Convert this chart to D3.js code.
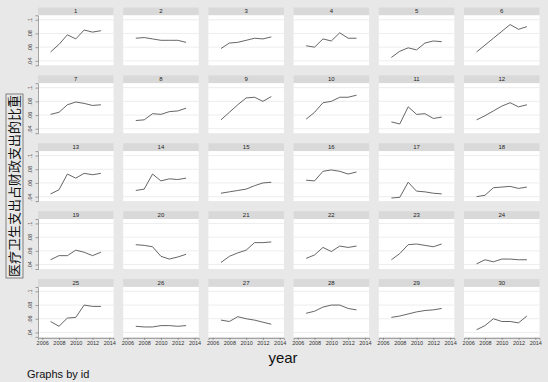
<!DOCTYPE html>
<html>
<head>
<meta charset="utf-8">
<script src="https://cdn.jsdelivr.net/npm/d3@7"></script>
<style>
  body { margin: 0; background: #e8e8e8; }
  svg { display: block; font-family: "Liberation Sans", Arial, sans-serif; }
</style>
</head>
<body>
<div class="chart"></div>
<script>
// data
var years = [2007, 2008, 2009, 2010, 2011, 2012, 2013];
var xTicks = [2006, 2008, 2010, 2012, 2014];
var yTicks = [0.04, 0.06, 0.08, 0.1];
var ids = d3.range(1, 31);
var shares = [
  [0.053, 0.064, 0.078, 0.072, 0.085, 0.082, 0.084],
  [0.073, 0.074, 0.072, 0.070, 0.070, 0.070, 0.067],
  [0.058, 0.066, 0.067, 0.070, 0.073, 0.072, 0.075],
  [0.062, 0.060, 0.072, 0.069, 0.081, 0.073, 0.073],
  [0.045, 0.054, 0.059, 0.056, 0.066, 0.069, 0.068],
  [0.053, 0.063, 0.073, 0.083, 0.093, 0.086, 0.090],
  [0.061, 0.064, 0.075, 0.079, 0.077, 0.074, 0.075],
  [0.052, 0.053, 0.062, 0.061, 0.065, 0.066, 0.070],
  [0.053, 0.064, 0.075, 0.085, 0.086, 0.080, 0.087],
  [0.054, 0.064, 0.078, 0.080, 0.086, 0.086, 0.089],
  [0.050, 0.047, 0.072, 0.061, 0.062, 0.055, 0.057],
  [0.053, 0.059, 0.066, 0.073, 0.078, 0.072, 0.075],
  [0.044, 0.050, 0.073, 0.067, 0.074, 0.072, 0.074],
  [0.049, 0.051, 0.073, 0.063, 0.066, 0.065, 0.067],
  [0.045, 0.047, 0.049, 0.051, 0.056, 0.060, 0.061],
  [0.064, 0.063, 0.077, 0.079, 0.077, 0.073, 0.076],
  [0.038, 0.039, 0.061, 0.048, 0.047, 0.045, 0.044],
  [0.040, 0.042, 0.053, 0.054, 0.055, 0.052, 0.054],
  [0.047, 0.053, 0.053, 0.061, 0.058, 0.053, 0.058],
  [0.069, 0.068, 0.066, 0.052, 0.048, 0.051, 0.055],
  [0.043, 0.052, 0.057, 0.061, 0.072, 0.072, 0.073],
  [0.049, 0.054, 0.065, 0.059, 0.067, 0.065, 0.067],
  [0.047, 0.056, 0.069, 0.070, 0.068, 0.066, 0.070],
  [0.041, 0.047, 0.044, 0.048, 0.048, 0.047, 0.047],
  [0.056, 0.049, 0.061, 0.062, 0.080, 0.078, 0.078],
  [0.049, 0.048, 0.048, 0.050, 0.050, 0.049, 0.050],
  [0.058, 0.056, 0.063, 0.060, 0.058, 0.055, 0.052],
  [0.068, 0.071, 0.077, 0.080, 0.080, 0.075, 0.073],
  [0.062, 0.064, 0.067, 0.070, 0.072, 0.073, 0.075],
  [0.044, 0.050, 0.060, 0.056, 0.056, 0.054, 0.064]
];

// dimensions
var width = 548, height = 382;
var cols = 6, rows = 5;
var gridLeft = 38, gridTop = 7.5;
var colStep = 85.2, rowStep = 67.9;
var pw = 75.5, stripH = 7.8, ph = 50;

var x = d3.scaleLinear().domain([2005.5, 2014.5]).range([0, pw]);
var y = d3.scaleLinear().domain([0.0335, 0.1065]).range([ph, 0]);
var fmtY = function(d) { return String(d).replace(/^0/, ""); };

var svg = d3.select(".chart")
  .append("svg")
  .attr("width", width)
  .attr("height", height);

svg.append("rect")
  .attr("width", width)
  .attr("height", height)
  .attr("fill", "#e8e8e8");

var line = d3.line()
  .x(function(d, i) { return x(years[i]); })
  .y(function(d) { return y(d); });

var panel = svg.selectAll(".panel")
  .data(ids)
  .enter()
  .append("g")
  .attr("class", "panel")
  .attr("transform", function(d, i) {
    return "translate(" + (gridLeft + (i % cols) * colStep) + "," + (gridTop + Math.floor(i / cols) * rowStep) + ")";
  });

// title strip
panel.append("rect")
  .attr("width", pw)
  .attr("height", stripH)
  .attr("fill", "#d9d9d9");

panel.append("text")
  .attr("x", pw / 2)
  .attr("y", stripH / 2 + 2)
  .attr("text-anchor", "middle")
  .attr("font-size", 6)
  .attr("fill", "#222")
  .text(function(d) { return d; });

// plot area
var plot = panel.append("g")
  .attr("transform", "translate(0," + stripH + ")");

plot.append("rect")
  .attr("width", pw)
  .attr("height", ph)
  .attr("fill", "#fff");

plot.selectAll(".grid")
  .data(yTicks)
  .enter()
  .append("line")
  .attr("x1", 0)
  .attr("x2", pw)
  .attr("y1", function(d) { return y(d); })
  .attr("y2", function(d) { return y(d); })
  .attr("stroke", "#e8e8e8")
  .attr("stroke-width", 0.8);

plot.append("path")
  .attr("d", function(d, i) { return line(shares[i]); })
  .attr("fill", "none")
  .attr("stroke", "#555")
  .attr("stroke-width", 0.9);

// y axis on first column
plot.filter(function(d, i) { return i % cols === 0; })
  .append("g")
  .attr("class", "yaxis")
  .call(d3.axisLeft(y).tickValues(yTicks).tickFormat(fmtY).tickSize(2.5).tickPadding(1.5))
  .call(function(g) {
    g.select(".domain").attr("stroke", "#666").attr("stroke-width", 0.6);
    g.selectAll(".tick line").attr("stroke", "#666").attr("stroke-width", 0.6);
    g.selectAll(".tick text")
      .attr("font-size", 5.5)
      .attr("font-family", "Liberation Sans, Arial, sans-serif")
      .attr("fill", "#333")
      .attr("text-anchor", "middle")
      .attr("dy", 0)
      .attr("x", 0)
      .attr("transform", "translate(-6,0) rotate(-90)");
  });

// x axis on bottom row
plot.filter(function(d, i) { return Math.floor(i / cols) === rows - 1; })
  .append("g")
  .attr("transform", "translate(0," + (ph + 1) + ")")
  .call(d3.axisBottom(x).tickValues(xTicks).tickFormat(d3.format("d")).tickSize(2).tickPadding(1.5))
  .call(function(g) {
    g.select(".domain").attr("stroke", "#666").attr("stroke-width", 0.6);
    g.selectAll(".tick line").attr("stroke", "#666").attr("stroke-width", 0.6);
    g.selectAll(".tick text")
      .attr("font-size", 5.5)
      .attr("font-family", "Liberation Sans, Arial, sans-serif")
      .attr("fill", "#333");
  });

// y title
var yTitle = svg.append("g")
  .attr("transform", "translate(14.5,186) rotate(-90)");
yTitle.append("rect")
  .attr("x", -92)
  .attr("y", -8.5)
  .attr("width", 184)
  .attr("height", 17)
  .attr("fill", "none")
  .attr("stroke", "#555")
  .attr("stroke-width", 0.7);
yTitle.append("text")
  .attr("text-anchor", "middle")
  .attr("y", 4.8)
  .attr("font-size", 13)
  .attr("font-family", "Noto Sans CJK SC, sans-serif")
  .attr("fill", "#111")
  .text("医疗卫生支出占财政支出的比重");

// x title
svg.append("text")
  .attr("x", 283)
  .attr("y", 363)
  .attr("text-anchor", "middle")
  .attr("font-size", 15)
  .attr("fill", "#111")
  .text("year");

// note
svg.append("text")
  .attr("x", 27)
  .attr("y", 378)
  .attr("font-size", 11)
  .attr("fill", "#111")
  .text("Graphs by id");
</script>
</body>
</html>
